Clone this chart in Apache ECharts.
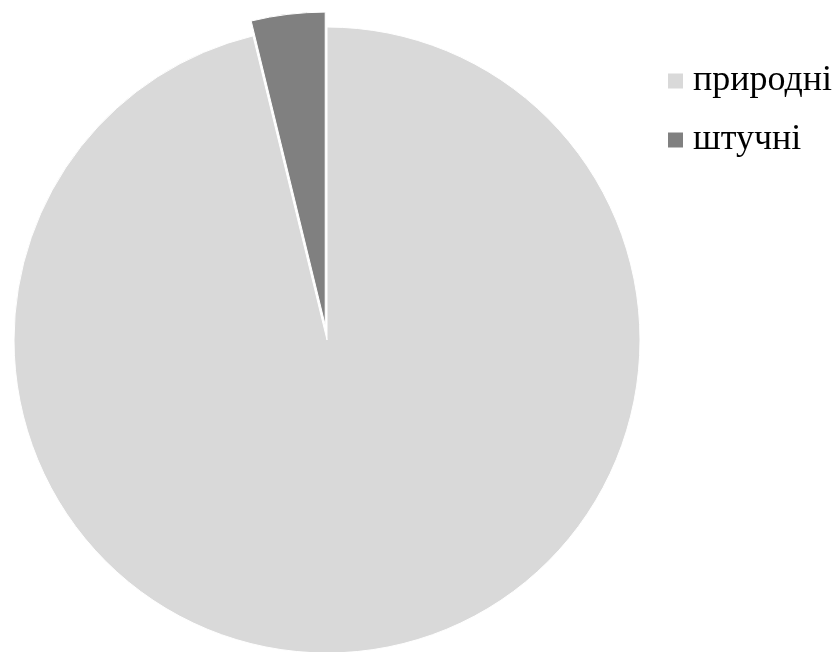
<!DOCTYPE html>
<html>
<head>
<meta charset="utf-8">
<script src="https://cdn.jsdelivr.net/npm/echarts@6/dist/echarts.min.js"></script>
<style>
html,body{margin:0;padding:0;background:#fff;}
#c{width:838px;height:652px;}
</style>
</head>
<body>
<div id="c"></div>
<script>
const categories = ['природні', 'штучні'];
const values = [96.2, 3.8];
const colors = ['#d9d9d9', '#808080'];

const chart = echarts.init(document.getElementById('c'), null, {renderer: 'canvas'});
chart.setOption({
  animation: false,
  backgroundColor: '#ffffff',
  legend: {
    orient: 'vertical',
    left: 666,
    top: 63,
    padding: 0,
    itemWidth: 17,
    itemHeight: 17,
    itemGap: 23,
    icon: 'rect',
    data: categories,
    textStyle: {
      fontFamily: '"Liberation Serif", "Times New Roman", serif',
      fontSize: 36,
      lineHeight: 36,
      color: '#000',
      padding: [0, 0, 0, 4]
    }
  },
  series: [{
    type: 'pie',
    center: [327, 340],
    radius: 313,
    startAngle: 90,
    clockwise: true,
    selectedMode: 'single',
    selectedOffset: 15,
    label: {show: false},
    labelLine: {show: false},
    emphasis: {disabled: true},
    itemStyle: {borderColor: '#ffffff', borderWidth: 1},
    data: categories.map((n, i) => ({
      name: n,
      value: values[i],
      selected: i === 1,
      itemStyle: {color: colors[i]}
    }))
  }]
});
</script>
</body>
</html>
